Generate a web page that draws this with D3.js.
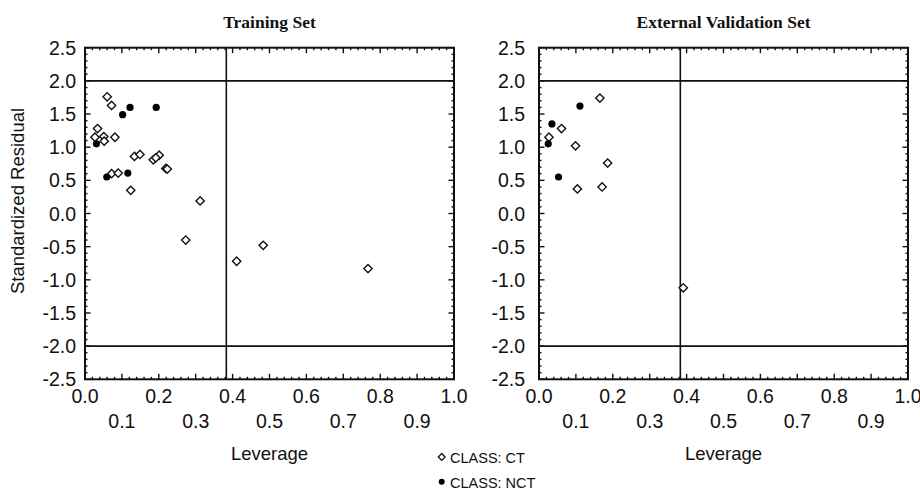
<!DOCTYPE html>
<html>
<head>
<meta charset="utf-8">
<script src="https://cdn.jsdelivr.net/npm/d3@7"></script>
<style>
  body { margin: 0; background: #fff; }
  svg text { fill: #111; }
  .tick-lab { font-family: 'Liberation Sans', Arial, sans-serif; font-size: 19.5px; }
  .ax-title { font-family: 'Liberation Sans', Arial, sans-serif; font-size: 18.5px; }
  .panel-title { font-family: 'Liberation Serif', 'Times New Roman', serif; font-size: 17.5px; font-weight: bold; }
  .legend { font-family: 'Liberation Sans', Arial, sans-serif; font-size: 14.5px; }
</style>
</head>
<body>
<div id="chart"></div>
<script>
// leverage / standardized residual
const trainCT = [
  [0.034, 1.28], [0.027, 1.15], [0.051, 1.16], [0.052, 1.09], [0.060, 1.76],
  [0.072, 1.63], [0.081, 1.15], [0.072, 0.60], [0.090, 0.61], [0.124, 0.35],
  [0.134, 0.86], [0.149, 0.89], [0.185, 0.81], [0.201, 0.88], [0.192, 0.84],
  [0.219, 0.68], [0.223, 0.67], [0.312, 0.19], [0.273, -0.40], [0.483, -0.48],
  [0.411, -0.72], [0.767, -0.83]
];
const trainNCT = [
  [0.031, 1.05], [0.059, 0.55], [0.102, 1.49], [0.122, 1.60], [0.116, 0.61], [0.193, 1.60]
];
const validCT = [
  [0.165, 1.74], [0.027, 1.15], [0.061, 1.28], [0.099, 1.02], [0.186, 0.76],
  [0.104, 0.37], [0.171, 0.40], [0.391, -1.12]
];
const validNCT = [
  [0.025, 1.05], [0.035, 1.35], [0.053, 0.55], [0.111, 1.62]
];
const xTicks = [0, 0.1, 0.2, 0.3, 0.4, 0.5, 0.6, 0.7, 0.8, 0.9, 1.0];
const yTicks = [2.5, 2.0, 1.5, 1.0, 0.5, 0.0, -0.5, -1.0, -1.5, -2.0, -2.5];
const hStar = 0.383;
const resLimits = [2, -2];
const legendItems = ['CLASS: CT', 'CLASS: NCT'];

const W = 920, H = 489;
const svg = d3.select('#chart').append('svg').attr('width', W).attr('height', H);

const panels = [
  { title: 'Training Set', ct: trainCT, nct: trainNCT, x0: 85, x1: 454, labGap: 9 },
  { title: 'External Validation Set', ct: validCT, nct: validNCT, x0: 539, x1: 908, labGap: 14 }
];
const plotTop = 47.7, plotBottom = 379.3;

const diamond = d3.symbol().type(d3.symbolDiamond2).size(44);

panels.forEach(p => {
  const x = d3.scaleLinear().domain([0, 1]).range([p.x0, p.x1]);
  const y = d3.scaleLinear().domain([-2.5, 2.5]).range([plotBottom, plotTop]);
  const g = svg.append('g');

  // minor ticks, all four sides, pointing in
  const xMinor = d3.range(0, 1.0001, 0.02);
  const yMinor = d3.range(-2.5, 2.5001, 0.1);
  const tk = g.append('g').attr('stroke', '#111').attr('stroke-width', 1.4);
  xMinor.forEach(v => {
    const major = Math.abs(v * 10 - Math.round(v * 10)) < 1e-6;
    const len = major ? 5.5 : 2.5;
    tk.append('line').attr('x1', x(v)).attr('x2', x(v)).attr('y1', plotBottom).attr('y2', plotBottom - len);
    tk.append('line').attr('x1', x(v)).attr('x2', x(v)).attr('y1', plotTop).attr('y2', plotTop + len);
  });
  yMinor.forEach(v => {
    const major = Math.abs(v * 2 - Math.round(v * 2)) < 1e-6;
    const len = major ? 5.5 : 2.5;
    tk.append('line').attr('y1', y(v)).attr('y2', y(v)).attr('x1', p.x0).attr('x2', p.x0 + len);
    tk.append('line').attr('y1', y(v)).attr('y2', y(v)).attr('x1', p.x1).attr('x2', p.x1 - len);
  });

  // frame
  g.append('rect').attr('x', p.x0).attr('y', plotTop)
    .attr('width', p.x1 - p.x0).attr('height', plotBottom - plotTop)
    .attr('fill', 'none').attr('stroke', '#111').attr('stroke-width', 2);

  // reference lines
  resLimits.forEach(v => {
    g.append('line').attr('x1', p.x0).attr('x2', p.x1).attr('y1', y(v)).attr('y2', y(v))
      .attr('stroke', '#111').attr('stroke-width', 1.6);
  });
  g.append('line').attr('x1', x(hStar)).attr('x2', x(hStar)).attr('y1', plotTop).attr('y2', plotBottom)
    .attr('stroke', '#111').attr('stroke-width', 1.6);

  // tick labels
  g.selectAll('.ylab').data(yTicks).enter().append('text')
    .attr('class', 'tick-lab').attr('text-anchor', 'end')
    .attr('x', p.x0 - p.labGap).attr('y', d => y(d) + 7)
    .text(d => d3.format('.1f')(d).replace('−', '-'));
  g.selectAll('.xlab').data(xTicks).enter().append('text')
    .attr('class', 'tick-lab').attr('text-anchor', 'middle')
    .attr('x', d => x(d)).attr('y', (d, i) => i % 2 === 0 ? 403 : 428)
    .text(d => d3.format('.1f')(d));

  g.append('text').attr('class', 'ax-title').attr('text-anchor', 'middle')
    .attr('x', (p.x0 + p.x1) / 2).attr('y', 460).text('Leverage');
  g.append('text').attr('class', 'panel-title').attr('text-anchor', 'middle')
    .attr('x', (p.x0 + p.x1) / 2).attr('y', 28).text(p.title);

  // points
  g.selectAll('.ct').data(p.ct).enter().append('path')
    .attr('d', diamond)
    .attr('transform', d => `translate(${x(d[0])},${y(d[1])})`)
    .attr('fill', '#fff').attr('stroke', '#111').attr('stroke-width', 1.4);
  g.selectAll('.nct').data(p.nct).enter().append('circle')
    .attr('cx', d => x(d[0])).attr('cy', d => y(d[1])).attr('r', 3.6)
    .attr('fill', '#000');
});

svg.append('text').attr('class', 'ax-title').attr('text-anchor', 'middle')
  .attr('transform', 'translate(24,201) rotate(-90)').text('Standardized Residual');

// legend
const leg = svg.append('g');
leg.append('path').attr('d', d3.symbol().type(d3.symbolDiamond2).size(30))
  .attr('transform', 'translate(441.7,457)')
  .attr('fill', '#fff').attr('stroke', '#111').attr('stroke-width', 1.3);
leg.append('circle').attr('cx', 441.7).attr('cy', 481.7).attr('r', 3).attr('fill', '#000');
leg.selectAll('text').data(legendItems).enter().append('text')
  .attr('class', 'legend').attr('x', 450).attr('y', (d, i) => 463 + i * 24.5)
  .text(d => d);
</script>
</body>
</html>
